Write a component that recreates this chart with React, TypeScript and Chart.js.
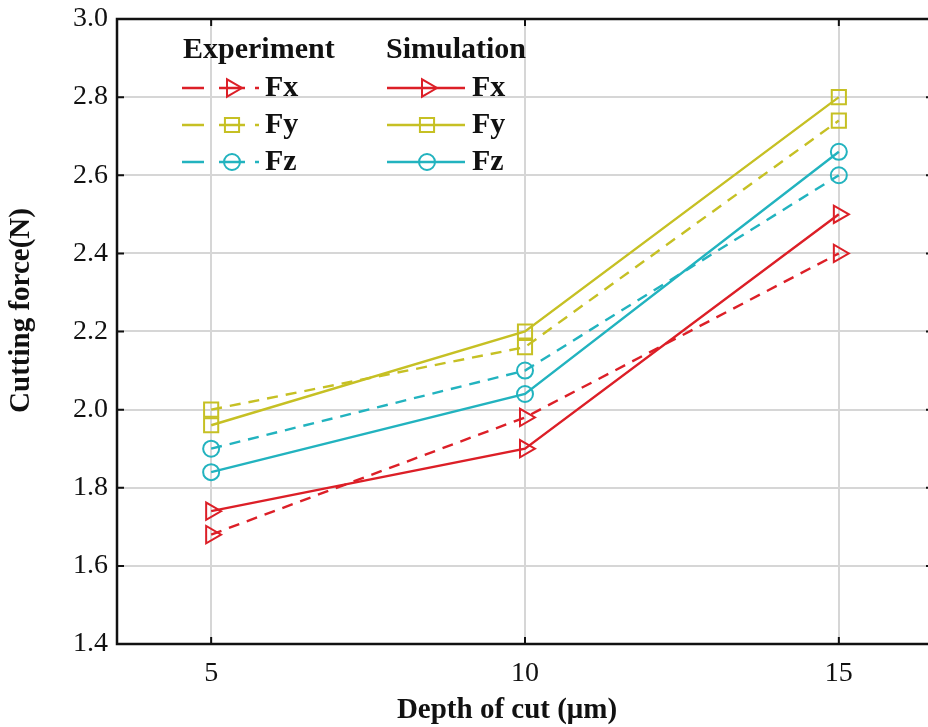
import { useEffect, useRef } from 'react';
import { Chart, registerables } from 'chart.js';

Chart.register(...registerables);

// ---- data ----
const depths = [5, 10, 15];
const expFx = [1.68, 1.98, 2.4];
const expFy = [2.0, 2.16, 2.74];
const expFz = [1.9, 2.1, 2.6];
const simFx = [1.74, 1.9, 2.5];
const simFy = [1.96, 2.2, 2.8];
const simFz = [1.84, 2.04, 2.66];
const xTicks = [5, 10, 15];
const yTicks = [1.4, 1.6, 1.8, 2.0, 2.2, 2.4, 2.6, 2.8, 3.0];
const seriesNames = ['Fx', 'Fy', 'Fz'];
const groupNames = ['Experiment', 'Simulation'];
const xTitle = 'Depth of cut (\u03bcm)';
const yTitle = 'Cutting force(N)';

const RED = '#dc1f27';
const YEL = '#c6c024';
const CYA = '#22b3bf';
const colors = [RED, YEL, CYA];
const styles = ['triangle', 'rect', 'circle'];
const radii = [10, 10, 8];
const FONT = '"Liberation Serif", "Times New Roman", serif';
const DASH = [11, 8];

const toPts = (vals: number[]) => vals.map((v, i) => ({ x: depths[i], y: v }));

function mkDataset(label: string, vals: number[], k: number, dashed: boolean) {
  return {
    label,
    data: toPts(vals),
    showLine: true,
    borderColor: colors[k],
    backgroundColor: 'rgba(0,0,0,0)',
    borderWidth: 2.4,
    borderDash: dashed ? DASH : [],
    pointStyle: styles[k],
    pointRotation: k === 0 ? 90 : 0,
    pointRadius: radii[k],
    pointHoverRadius: radii[k],
    pointBorderWidth: 2,
    pointBorderColor: colors[k],
    pointBackgroundColor: 'rgba(0,0,0,0)',
  };
}

function drawMarker(ctx: CanvasRenderingContext2D, k: number, x: number, y: number) {
  const r = radii[k];
  ctx.beginPath();
  if (k === 0) {
    for (let i = 0; i < 3; i++) {
      const a = Math.PI / 2 + (i * 2 * Math.PI) / 3;
      const px = x + Math.sin(a) * r;
      const py = y - Math.cos(a) * r;
      if (i === 0) ctx.moveTo(px, py);
      else ctx.lineTo(px, py);
    }
    ctx.closePath();
  } else if (k === 1) {
    const s = Math.SQRT1_2 * r;
    ctx.rect(x - s, y - s, 2 * s, 2 * s);
  } else {
    ctx.arc(x, y, r, 0, Math.PI * 2);
  }
  ctx.stroke();
}

const framePlugin = {
  id: 'frame',
  afterDraw(chart: any) {
    const { ctx, chartArea: ca, scales } = chart;
    const xs = scales.x;
    const ys = scales.y;
    ctx.save();
    ctx.strokeStyle = '#111';
    ctx.lineWidth = 2.5;
    ctx.setLineDash([]);
    ctx.strokeRect(ca.left, ca.top, ca.right - ca.left, ca.bottom - ca.top);
    const tl = 7;
    ctx.lineWidth = 2;
    ctx.beginPath();
    xTicks.forEach((v) => {
      const px = xs.getPixelForValue(v);
      ctx.moveTo(px, ca.bottom);
      ctx.lineTo(px, ca.bottom - tl);
      ctx.moveTo(px, ca.top);
      ctx.lineTo(px, ca.top + tl);
    });
    yTicks.forEach((v) => {
      const py = ys.getPixelForValue(v);
      ctx.moveTo(ca.left, py);
      ctx.lineTo(ca.left + tl, py);
      ctx.moveTo(ca.right, py);
      ctx.lineTo(ca.right - tl, py);
    });
    ctx.stroke();

    // axis titles
    ctx.fillStyle = '#111';
    ctx.font = `bold 29px ${FONT}`;
    ctx.textAlign = 'center';
    ctx.textBaseline = 'middle';
    ctx.fillText(xTitle, (ca.left + ca.right) / 2 - 18, ca.bottom + 67);
    ctx.save();
    ctx.translate(22, (ca.top + ca.bottom) / 2 - 21);
    ctx.rotate(-Math.PI / 2);
    ctx.fillText(yTitle, 0, 0);
    ctx.restore();

    // legend
    ctx.font = `bold 30px ${FONT}`;
    ctx.textAlign = 'left';
    ctx.textBaseline = 'middle';
    const L = ca.left;
    const T = ca.top;
    ctx.fillText(groupNames[0], L + 66, T + 31);
    ctx.fillText(groupNames[1], L + 269, T + 31);
    const rows = [69, 106, 143];
    seriesNames.forEach((name, k) => {
      const y = T + rows[k];
      ctx.strokeStyle = colors[k];
      ctx.lineWidth = 2.4;
      ctx.beginPath();
      ctx.moveTo(L + 65, y); ctx.lineTo(L + 87, y);
      ctx.moveTo(L + 102, y); ctx.lineTo(L + 128, y);
      ctx.moveTo(L + 138, y); ctx.lineTo(L + 142, y);
      ctx.stroke();
      ctx.lineWidth = 2;
      drawMarker(ctx, k, L + 115, y);
      ctx.fillStyle = '#111';
      ctx.fillText(name, L + 148, y);
      ctx.lineWidth = 2.4;
      ctx.beginPath();
      ctx.moveTo(L + 270, y); ctx.lineTo(L + 348, y);
      ctx.stroke();
      ctx.lineWidth = 2;
      drawMarker(ctx, k, L + 310, y);
      ctx.fillText(name, L + 355, y);
    });
    ctx.restore();
  },
};

export default function App() {
  const ref = useRef<HTMLCanvasElement>(null);
  useEffect(() => {
    document.body.style.margin = '0';
    document.body.style.overflow = 'hidden';
    const datasets = [
      mkDataset('Experiment Fx', expFx, 0, true),
      mkDataset('Experiment Fy', expFy, 1, true),
      mkDataset('Experiment Fz', expFz, 2, true),
      mkDataset('Simulation Fx', simFx, 0, false),
      mkDataset('Simulation Fy', simFy, 1, false),
      mkDataset('Simulation Fz', simFz, 2, false),
    ];
    const chart = new Chart(ref.current as HTMLCanvasElement, {
      type: 'scatter',
      data: { datasets } as any,
      options: {
        animation: false,
        responsive: false,
        devicePixelRatio: 1,
        layout: { padding: { top: 19, right: 9, left: 0, bottom: 0 } },
        plugins: { legend: { display: false }, tooltip: { enabled: false } },
        scales: {
          x: {
            type: 'linear',
            min: 3.5,
            max: 16.5,
            afterBuildTicks: (s: any) => {
              s.ticks = xTicks.map((v) => ({ value: v }));
            },
            afterFit: (s: any) => {
              s.height = 83;
              s.paddingLeft = 0;
              s.paddingRight = 0;
            },
            ticks: {
              font: { family: FONT, size: 28 },
              color: '#111',
              padding: 13,
              callback: (v: any) => String(v),
            },
            grid: { color: '#d6d6d6', lineWidth: 2, drawTicks: false },
            border: { display: false },
          },
          y: {
            type: 'linear',
            min: 1.4,
            max: 3.0,
            afterBuildTicks: (s: any) => {
              s.ticks = yTicks.map((v) => ({ value: v }));
            },
            afterFit: (s: any) => {
              s.width = 117;
              s.paddingTop = 0;
              s.paddingBottom = 0;
            },
            ticks: {
              font: { family: FONT, size: 28 },
              color: '#111',
              padding: 9,
              callback: (v: any) => Number(v).toFixed(1),
            },
            grid: { color: '#d6d6d6', lineWidth: 2, drawTicks: false },
            border: { display: false },
          },
        },
      },
      plugins: [framePlugin],
    } as any);
    return () => chart.destroy();
  }, []);
  return (
    <div style={{ position: 'fixed', left: 0, top: 0, width: 945, height: 727, background: '#fff' }}>
      <canvas ref={ref} width={945} height={727} style={{ display: 'block', width: 945, height: 727 }} />
    </div>
  );
}
